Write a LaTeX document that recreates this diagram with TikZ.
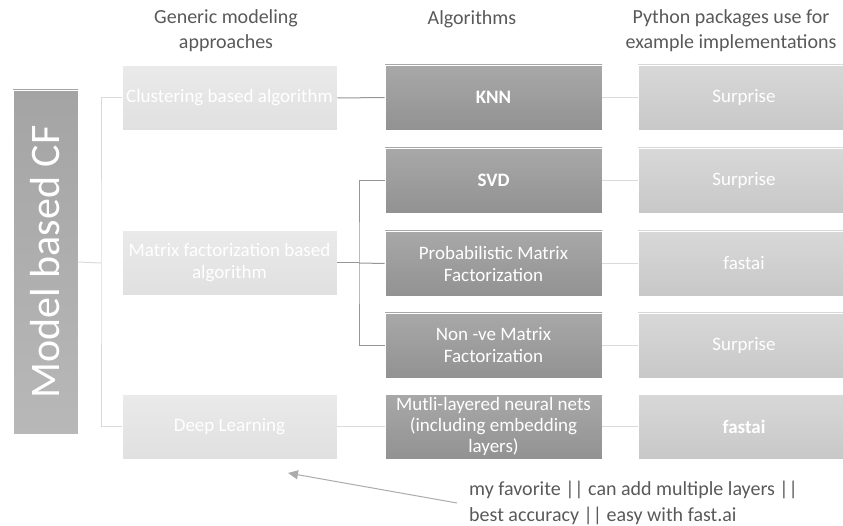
\documentclass[tikz,border=0pt]{standalone}
\usepackage{fontspec}
\setmainfont{Carlito}
\usetikzlibrary{arrows.meta}
\definecolor{headtext}{RGB}{89,89,89}
\definecolor{modeltop}{RGB}{184,184,184}
\definecolor{modelbot}{RGB}{164,164,164}
\definecolor{appr1}{RGB}{234,234,234}
\definecolor{appr2}{RGB}{224,224,224}
\definecolor{algo1}{RGB}{168,168,168}
\definecolor{algo2}{RGB}{146,146,146}
\definecolor{pkg1}{RGB}{216,216,216}
\definecolor{pkg2}{RGB}{200,200,200}
\definecolor{linelight}{RGB}{218,218,218}
\definecolor{linedark}{RGB}{150,150,150}

\begin{document}
\begin{tikzpicture}[x=1pt, y=-1pt,
  box/.style={rectangle, draw=white, line width=0.8pt, text=white, align=center, inner sep=2pt, minimum height=65pt, font=\fontsize{19}{22}\selectfont},
  approach/.style={box, minimum width=215pt, top color=appr1, bottom color=appr2},
  algo/.style={box, minimum width=217pt, top color=algo1, bottom color=algo2},
  pkg/.style={box, minimum width=212pt, top color=pkg1, bottom color=pkg2},
  head/.style={text=headtext, align=center, font=\fontsize{20}{25}\selectfont},
  thin/.style={draw=linelight, line width=1pt},
  dark/.style={draw=linedark, line width=1pt}]
\useasboundingbox (0,0) rectangle (843,526);
\clip (0,0) rectangle (843,526);

% Headings
\node[head] (hgen) at (226,31) {Generic modeling\\approaches};
\node[head] (halg) at (472,19) {Algorithms};
\node[head] (hpkg) at (731,31) {Python packages use for\\example implementations};

% Boxes
\node[box, rotate=90, minimum width=344pt, minimum height=65pt, top color=modelbot, bottom color=modeltop, font=\fontsize{42}{46}\selectfont] (model) at (45.5,262) {Model based CF};

\node[approach] (clust) at (229.5,98) {Clustering based algorithm};
\node[approach] (mf) at (229.5,263) {Matrix factorization based\\algorithm};
\node[approach] (deep) at (229.5,426.5) {Deep Learning};

\node[algo, font=\fontsize{19}{22}\selectfont\bfseries] (knn) at (493.5,97.5) {KNN};
\node[algo, font=\fontsize{19}{22}\selectfont\bfseries] (svd) at (493.5,180.5) {SVD};
\node[algo] (pmf) at (493.5,263.5) {Probabilistic Matrix\\Factorization};
\node[algo] (nmf) at (493.5,345.5) {Non -ve Matrix\\Factorization};
\node[algo, font=\fontsize{19}{21}\selectfont] (mlnn) at (493.5,426.5) {Mutli-layered neural nets\\(including embedding\\layers)};

\node[pkg] (p1) at (744,97.5) {Surprise};
\node[pkg] (p2) at (744,180.5) {Surprise};
\node[pkg] (p3) at (744,263.5) {fastai};
\node[pkg] (p4) at (744,345.5) {Surprise};
\node[pkg, font=\fontsize{19}{22}\selectfont\bfseries] (p5) at (744,426.5) {fastai};

% Lines
\coordinate (trunk) at (101,263);
\coordinate (fork) at (359,263);
\draw[thin] (model.south) -- (trunk);
\draw[thin] (clust.west) -| (trunk) |- (deep.west);
\draw[dark] (clust.east) -- (knn.west);
\draw[dark] (mf.east) -- (fork);
\draw[dark] (svd.west) -| (fork) |- (nmf.west);
\draw[dark] (fork) -- (pmf.west);
\draw[thin] (deep.east) -- (mlnn.west);
\draw[thin] (knn.east) -- (p1.west);
\draw[thin] (svd.east) -- (p2.west);
\draw[thin] (pmf.east) -- (p3.west);
\draw[thin] (nmf.east) -- (p4.west);
\draw[thin] (mlnn.east) -- (p5.west);

% Note
\node[text=headtext, align=left, anchor=west, inner sep=0pt, font=\fontsize{20}{26}\selectfont] (note) at (469,503) {my favorite || can add multiple layers ||\\best accuracy || easy with fast.ai};
\coordinate (tip) at (288,473);
\draw[draw=linedark!80, line width=1pt, -{Triangle[length=10pt, width=9pt]}] ([xshift=-12pt]note.west) -- (tip);
\end{tikzpicture}
\end{document}
